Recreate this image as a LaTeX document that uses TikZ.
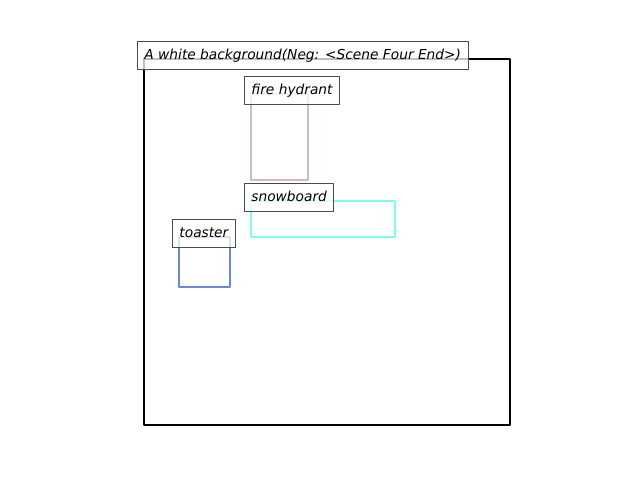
\documentclass[tikz,border=0pt]{standalone}
\usepackage{fontspec}
\setmainfont{DejaVu Sans}
\usetikzlibrary{positioning}
\definecolor{hydrantcol}{RGB}{212,184,200}
\definecolor{snowcol}{RGB}{125,252,240}
\definecolor{toastcol}{RGB}{105,135,220}
\tikzset{
	tag/.style={draw=black!70, line width=0.9pt, fill=white, fill opacity=0.75, text opacity=1,
		anchor=base west, inner xsep=7pt, inner ysep=5pt, text height=13pt, text depth=5pt,
		font=\fontsize{13.75}{16}\selectfont\itshape},
	objbox/.style={line width=2.3pt}
}
% object box with its tag: name, colour, x1, y1, x2, y2, text
\newcommand{\objbox}[7]{%
	\draw[objbox, #2] (#3,#4) rectangle (#5,#6);
	\node[tag] (#1) at (#3-7,#4) {#7};
}
\begin{document}
\begin{tikzpicture}[x=1pt, y=-1pt, line cap=round, line join=round]
	\useasboundingbox (0,0) rectangle (640,480);
	
	% Scene frame
	\draw[line width=2.2pt] (144,59) rectangle (510,425);
	
	% Objects
	\objbox{hydrant}{hydrantcol}{251}{94}{308}{180}{fire hydrant}
	\objbox{snowboard}{snowcol}{251}{201}{395}{237}{snowboard}
	\objbox{toaster}{toastcol}{179}{237}{230}{287}{toaster}
	
	% Caption
	\node[tag] (caption) at (137,59) {A white background(Neg: <Scene Four End>)};
\end{tikzpicture}
\end{document}
